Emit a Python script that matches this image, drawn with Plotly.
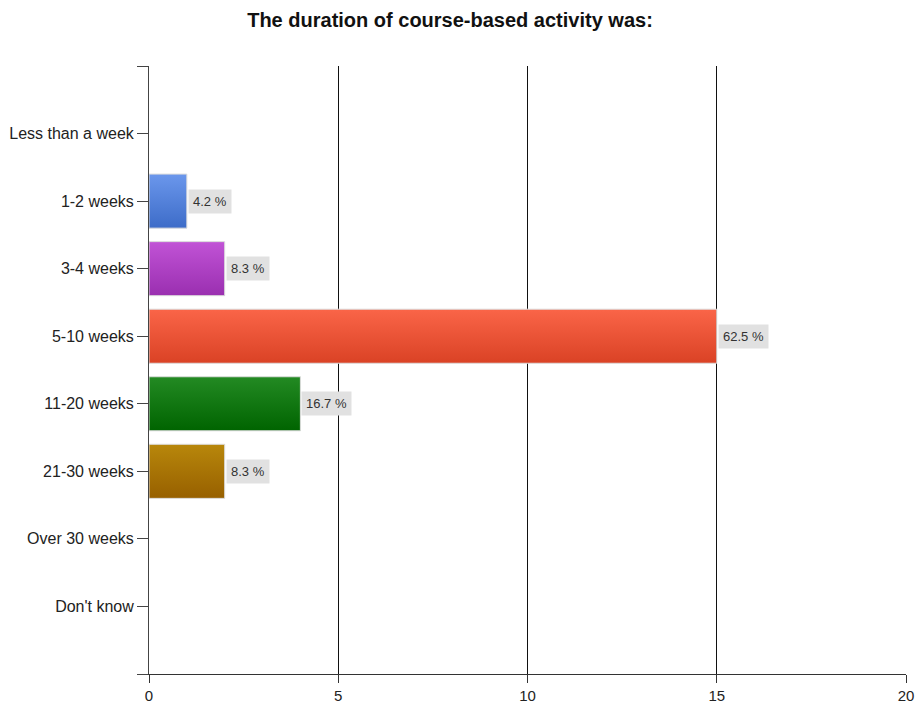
import plotly.graph_objects as go

# Survey answers and response counts
categories = ["Less than a week", "1-2 weeks", "3-4 weeks", "5-10 weeks",
              "11-20 weeks", "21-30 weeks", "Over 30 weeks", "Don't know"]
counts = [0, 1, 2, 15, 4, 2, 0, 0]
x_ticks = [0, 5, 10, 15, 20]

# Gradient colours per bar (top, bottom)
bar_colors = [
    ("#6b97ec", "#3d6cc8"),
    ("#6b97ec", "#3d6cc8"),
    ("#c153d6", "#9a2fb0"),
    ("#fa6548", "#da4225"),
    ("#238a23", "#006400"),
    ("#b8870b", "#976000"),
    ("#6b97ec", "#3d6cc8"),
    ("#6b97ec", "#3d6cc8"),
]

total = sum(counts)
half = 0.4
FONT = "Liberation Sans, Arial"

fig = go.Figure()
annotations = []
for i, (cat, c) in enumerate(zip(categories, counts)):
    if c <= 0:
        continue
    top, bottom = bar_colors[i]
    fig.add_trace(go.Scatter(
        x=[0, c, c, 0, 0],
        y=[i - half, i - half, i + half, i + half, i - half],
        mode="lines",
        fill="toself",
        line=dict(color="#dcdcdc", width=1),
        fillgradient=dict(type="vertical",
                          colorscale=[[0, bottom], [1, top]]),
        hoverinfo="skip",
        showlegend=False,
    ))
    pct = round(100 * c / total, 1)
    annotations.append(dict(
        x=c, y=i, xref="x", yref="y",
        text=f"{pct} %", showarrow=False,
        xanchor="left", yanchor="middle", xshift=1,
        bgcolor="#e1e1e1", borderpad=4,
        font=dict(family=FONT, size=13, color="#333333"),
    ))

fig.update_layout(
    width=919, height=704,
    margin=dict(l=149, r=13, t=66, b=30),
    paper_bgcolor="white", plot_bgcolor="white",
    title=dict(text="<b>The duration of course-based activity was:</b>",
               x=450 / 919, xanchor="center", y=1 - 20 / 704, yanchor="middle",
               font=dict(family=FONT, size=20, color="#111111")),
    annotations=annotations,
    font=dict(family=FONT, size=16, color="#222222"),
)

fig.update_xaxes(
    range=[0, 20], tickvals=x_ticks, ticktext=[str(t) for t in x_ticks],
    showgrid=True, gridcolor="#111111", gridwidth=1,
    showline=True, linecolor="#333333", linewidth=1,
    ticks="outside", ticklen=8, tickcolor="#333333",
    zeroline=False, fixedrange=True, automargin=False,
    tickfont=dict(family=FONT, size=15, color="#222222"),
)

y_tickvals = list(range(-1, len(categories) + 1))
y_ticktext = [""] + categories + [""]
fig.update_yaxes(
    range=[len(categories), -1], tickvals=y_tickvals, ticktext=y_ticktext,
    showgrid=False, zeroline=False,
    showline=True, linecolor="#444444", linewidth=1,
    ticks="outside", ticklen=11, tickcolor="#444444",
    fixedrange=True, automargin=False,
    tickfont=dict(family=FONT, size=16, color="#222222"),
)

fig.write_html("out.html")
